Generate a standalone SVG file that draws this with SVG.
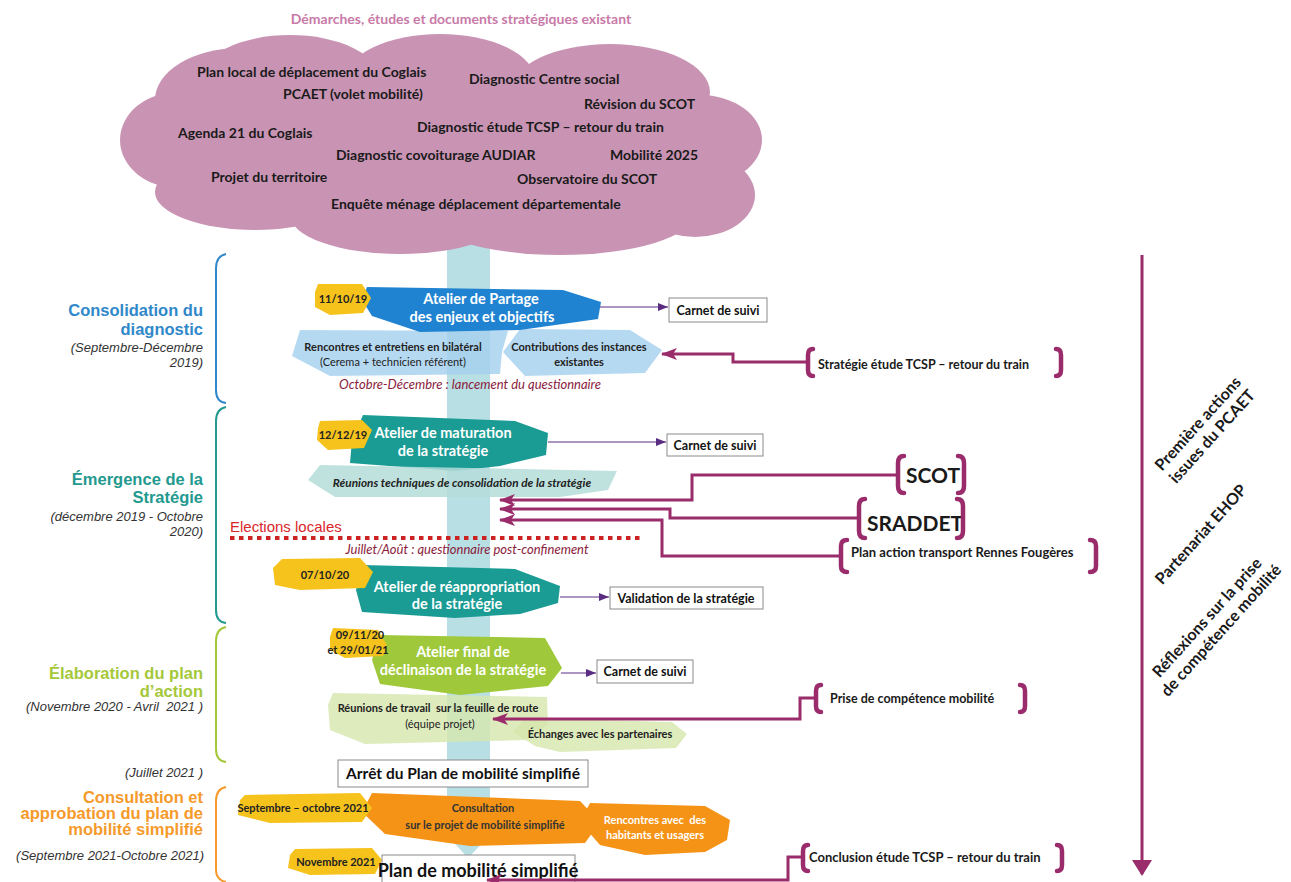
<svg xmlns="http://www.w3.org/2000/svg" width="1291" height="882" viewBox="0 0 1291 882">
<defs>
<marker id="thin" viewBox="0 0 10 8" refX="10" refY="4" markerWidth="10" markerHeight="8" markerUnits="userSpaceOnUse" orient="auto"><path d="M0,0 L10,4 L0,8 z" fill="#5a2d82"/></marker>
<marker id="plum" viewBox="0 0 16 12" refX="15" refY="6" markerWidth="16" markerHeight="12" markerUnits="userSpaceOnUse" orient="auto"><path d="M0,0 L16,6 L0,12 L4,6 z" fill="#9b2c6b"/></marker>
<marker id="plumBig" viewBox="0 0 16 20" refX="14" refY="10" markerWidth="16" markerHeight="20" markerUnits="userSpaceOnUse" orient="auto"><path d="M0,0 L16,10 L0,20 z" fill="#9b2c6b"/></marker>
</defs>
<style>
.c{font-family:Lato,'Open Sans','Liberation Sans',sans-serif;}
.a{font-family:'Liberation Sans',Arial,sans-serif;}
.b{font-weight:bold;}
.i{font-style:italic;}
.m{text-anchor:middle;}
.tag{fill:#f6c21c;}
.tagt{font-family:Lato,'Liberation Sans',sans-serif;font-weight:bold;font-size:11px;fill:#222;text-anchor:middle;}
.box{fill:#fff;stroke:#8a8a8a;stroke-width:1;}
.boxt{font-family:Lato,'Liberation Sans',sans-serif;font-weight:bold;fill:#111;text-anchor:middle;}
.wt{font-family:Lato,'Liberation Sans',sans-serif;font-weight:bold;fill:#fff;text-anchor:middle;font-size:14.5px;}
.st{font-family:Lato,'Liberation Sans',sans-serif;text-anchor:middle;font-size:11px;}
.dk{fill:#222;}
.wh{fill:#fff;}
.brace{fill:none;stroke:#9b2c6b;stroke-width:4.5;stroke-linecap:round;stroke-linejoin:round;}
.bracket{fill:none;stroke-width:2;}
.plumline{fill:none;stroke:#9b2c6b;stroke-width:3;marker-end:url(#plum);}
.thinline{fill:none;stroke:#5a2d82;stroke-width:1.2;marker-end:url(#thin);}
.cl{font-family:Lato,'Liberation Sans',sans-serif;font-weight:bold;font-size:14px;fill:#1a1a1a;}
.lab{font-family:Lato,'Liberation Sans',sans-serif;font-weight:bold;fill:#1a1a1a;}
.rot{font-family:Lato,'Liberation Sans',sans-serif;font-weight:bold;font-size:16px;fill:#1a1a1a;text-anchor:middle;}
.ph{font-family:'Liberation Sans',Arial,sans-serif;font-weight:bold;font-size:16.5px;text-anchor:end;}
.pd{font-family:'Liberation Sans',Arial,sans-serif;font-style:italic;font-size:13px;fill:#333;text-anchor:end;}
.note{font-family:Lato,'Liberation Sans',sans-serif;font-style:italic;fill:#8a1c3c;text-anchor:middle;font-size:13px;}
</style>
<rect width="1291" height="882" fill="#fff"/>

<!-- timeline band -->
<polygon id="band" points="447,240 490,240 490,835 468,858 447,835" fill="#b8dfe4"/>

<!-- cloud -->
<g id="cloud">
<g fill="#c994b4">
<ellipse cx="440" cy="145" rx="285" ry="85"/>
<ellipse cx="178" cy="140" rx="58" ry="48"/>
<ellipse cx="240" cy="100" rx="85" ry="52"/>
<ellipse cx="290" cy="80" rx="90" ry="45"/>
<ellipse cx="440" cy="80" rx="95" ry="46"/>
<ellipse cx="610" cy="92" rx="100" ry="48"/>
<ellipse cx="700" cy="140" rx="62" ry="45"/>
<ellipse cx="695" cy="195" rx="60" ry="42"/>
<ellipse cx="560" cy="213" rx="135" ry="42"/>
<ellipse cx="400" cy="215" rx="110" ry="39"/>
<ellipse cx="255" cy="192" rx="100" ry="38"/>
</g>
<text class="c b m" x="461" y="24" font-size="14" fill="#c97aa8">Démarches, études et documents stratégiques existant</text>
<text class="cl" x="197" y="77">Plan local de déplacement du Coglais</text>
<text class="cl" x="283" y="99">PCAET (volet mobilité)</text>
<text class="cl" x="469" y="84">Diagnostic Centre social</text>
<text class="cl" x="584" y="109">Révision du SCOT</text>
<text class="cl" x="178" y="138">Agenda 21 du Coglais</text>
<text class="cl" x="417" y="132">Diagnostic étude TCSP – retour du train</text>
<text class="cl" x="336" y="160">Diagnostic covoiturage AUDIAR</text>
<text class="cl" x="610" y="160">Mobilité 2025</text>
<text class="cl" x="211" y="182">Projet du territoire</text>
<text class="cl" x="517" y="184">Observatoire du SCOT</text>
<text class="cl" x="331" y="209">Enquête ménage déplacement départementale</text>
</g>

<!-- phase brackets and labels -->
<g id="phase1">
<path class="bracket" stroke="#2f88c9" d="M226,254 Q216,256 216,268 L216,390 Q216,402 226,403"/>
<text class="ph" x="203" y="316" fill="#2f88c9">Consolidation du</text>
<text class="ph" x="203" y="335" fill="#2f88c9">diagnostic</text>
<text class="pd" x="203" y="352">(Septembre-Décembre</text>
<text class="pd" x="203" y="367">2019)</text>
</g>
<g id="phase2">
<path class="bracket" stroke="#23998f" d="M226,407 Q216,409 216,421 L216,610 Q216,622 226,623"/>
<text class="ph" x="203" y="485" fill="#23998f">Émergence de la</text>
<text class="ph" x="203" y="503" fill="#23998f">Stratégie</text>
<text class="pd" x="203" y="521">(décembre 2019 - Octobre</text>
<text class="pd" x="203" y="536">2020)</text>
</g>
<g id="phase3">
<path class="bracket" stroke="#a5c83b" d="M226,627 Q216,629 216,641 L216,749 Q216,761 226,762"/>
<text class="ph" x="203" y="679" fill="#a5c83b">Élaboration du plan</text>
<text class="ph" x="203" y="697" fill="#a5c83b">d’action</text>
<text class="pd" x="203" y="711">(Novembre 2020 - Avril&#160; 2021 )</text>
<text class="pd" x="203" y="777">(Juillet 2021 )</text>
</g>
<g id="phase4">
<path class="bracket" stroke="#f59a2b" d="M226,787 Q216,789 216,801 L216,870 Q216,880 226,882"/>
<text class="ph" x="203" y="803" fill="#f59a2b">Consultation et</text>
<text class="ph" x="203" y="819" fill="#f59a2b">approbation du plan de</text>
<text class="ph" x="203" y="835" fill="#f59a2b">mobilité simplifié</text>
<text class="pd" x="204" y="860">(Septembre 2021-Octobre 2021)</text>
</g>

<!-- elections -->
<g id="elections">
<text class="a" x="230" y="532" font-size="15" fill="#d9262b">Elections locales</text>
<line x1="230" y1="538" x2="640" y2="538" stroke="#cc2222" stroke-width="4" stroke-dasharray="4.5 4.5"/>
</g>

<!-- section 1 -->
<g id="rencontres">
<polygon points="300,330 508,331 502,352 500,374 330,376 292,356" fill="#a6d1ef" fill-opacity="0.82"/>
<text class="st b dk" x="393" y="351">Rencontres et entretiens en bilatéral</text>
<text class="st dk" x="393" y="366">(Cerema + technicien référent)</text>
</g>
<g id="contributions">
<polygon points="520,329 630,330 662,350 645,373 525,376 503,352" fill="#a6d1ef" fill-opacity="0.82"/>
<text class="st b dk" x="579" y="351">Contributions des instances</text>
<text class="st b dk" x="579" y="366">existantes</text>
</g>
<g id="atelier1">
<polygon points="367,287 563,290 601,302 598,319 520,330 420,332 372,316 362,300" fill="#1f83d1"/>
<text class="wt" x="481" y="304">Atelier de Partage</text>
<text class="wt" x="482" y="322">des enjeux et objectifs</text>
</g>
<g id="date1">
<polygon class="tag" points="318,284 362,284 371,298 363,313 330,315 315,307 315,292"/>
<text class="tagt" x="343" y="303">11/10/19</text>
</g>
<text id="note1" class="note" x="470" y="389">Octobre-Décembre : lancement du questionnaire</text>
<g id="carnet1">
<rect class="box" x="669" y="298" width="98" height="24"/>
<text class="boxt" x="718" y="314.5" font-size="12.5">Carnet de suivi</text>
</g>

<!-- section 2 -->
<g id="atelier2">
<polygon points="363,415 515,421 548,433 546,455 500,466 455,471 350,463 352,440" fill="#1a9b94"/>
<text class="wt" x="443" y="438">Atelier de maturation</text>
<text class="wt" x="443" y="456">de la stratégie</text>
</g>
<g id="date2">
<polygon class="tag" points="320,421 362,420 372,430 364,448 328,450 317,440 318,428"/>
<text class="tagt" x="343" y="439">12/12/19</text>
</g>
<g id="reunions-tech">
<polygon points="320,465 617,471 608,490 560,497 335,497 308,480" fill="#b5ddd9" fill-opacity="0.85"/>
<text class="st b i dk" x="462" y="487" style="font-size:11.8px">Réunions techniques de consolidation de la stratégie</text>
</g>
<g id="carnet2">
<rect class="box" x="667" y="434" width="96" height="22"/>
<text class="boxt" x="715" y="449.5" font-size="12.5">Carnet de suivi</text>
</g>
<text id="note2" class="note" x="467" y="554">Juillet/Août : questionnaire post-confinement</text>
<g id="atelier3">
<polygon points="362,565 515,569 560,586 558,603 520,614 455,618 362,612 356,590" fill="#1a9b94"/>
<text class="wt" x="457" y="592">Atelier de réappropriation</text>
<text class="wt" x="457" y="609">de la stratégie</text>
</g>
<g id="date3">
<polygon class="tag" points="282,559 360,558 373,572 365,588 300,590 275,585 273,568"/>
<text class="tagt" x="325" y="579">07/10/20</text>
</g>
<g id="validation">
<rect class="box" x="610" y="587" width="153" height="22"/>
<text class="boxt" x="686" y="602.5" font-size="12.5">Validation de la stratégie</text>
</g>

<!-- section 3 -->
<g id="reunions-travail">
<polygon points="333,693 547,697 548,725 525,740 365,744 330,730 328,705" fill="#d6e6ad" fill-opacity="0.8"/>
<text class="st b dk" x="438" y="712">Réunions de travail&#160; sur la feuille de route</text>
<text class="st dk" x="440" y="728">(équipe projet)</text>
</g>
<g id="echanges">
<polygon points="525,718 672,722 687,734 676,748 560,752 535,746 513,732" fill="#d6e6ad" fill-opacity="0.8"/>
<text class="st b dk" x="600" y="738">Échanges avec les partenaires</text>
</g>
<g id="atelier4">
<polygon points="378,635 545,638 562,668 548,686 460,695 380,684 372,660" fill="#9fc93a"/>
<text class="wt" x="463" y="657">Atelier final de</text>
<text class="wt" x="463" y="675">déclinaison de la stratégie</text>
</g>
<g id="date4">
<polygon class="tag" points="333,628 378,630 387,645 383,656 345,658 330,650 330,637"/>
<text class="tagt" x="360" y="639">09/11/20</text>
<text class="tagt" x="358" y="654">et 29/01/21</text>
</g>
<g id="carnet3">
<rect class="box" x="597" y="660" width="96" height="23"/>
<text class="boxt" x="645" y="676" font-size="12.5">Carnet de suivi</text>
</g>
<g id="arret">
<rect class="box" x="338" y="760" width="250" height="27"/>
<text class="boxt" x="463" y="779" font-size="15.5">Arrêt du Plan de mobilité simplifié</text>
</g>

<!-- section 4 -->
<g id="consultation">
<polygon points="372,793 580,801 600,822 585,843 470,846 385,834 362,812" fill="#f59316"/>
<text class="st b" x="483" y="812" fill="#333">Consultation</text>
<text class="st b" x="485" y="829" fill="#333">sur le projet de mobilité simplifié</text>
</g>
<g id="rencontres-hab">
<polygon points="590,803 705,806 730,820 727,840 705,852 645,855 600,845 580,822" fill="#f59316"/>
<text class="st b wh" x="655" y="824">Rencontres avec&#160; des</text>
<text class="st b wh" x="655" y="839">habitants et usagers</text>
</g>
<g id="date5">
<polygon class="tag" points="245,795 360,793 372,808 362,822 270,823 238,815 240,800"/>
<text class="tagt" x="303" y="812">Septembre – octobre 2021</text>
</g>
<g id="date6">
<polygon class="tag" points="295,849 372,848 382,860 375,874 310,875 288,868 290,855"/>
<text class="tagt" x="336" y="866">Novembre 2021</text>
</g>
<g id="plan-final">
<rect class="box" x="382" y="855" width="193" height="32"/>
<text class="boxt" x="478" y="877" font-size="18">Plan de mobilité simplifié</text>
</g>

<!-- external documents -->
<g id="ext-tcsp">
<path class="brace" d="M813,349 Q808,349 808,355 L808,370 Q808,376 813,376"/>
<text class="lab" x="818" y="369" font-size="12.5">Stratégie étude TCSP – retour du train</text>
<path class="brace" d="M1056,349 Q1061,349 1061,355 L1061,370 Q1061,376 1056,376"/>
</g>
<g id="ext-scot">
<path class="brace" d="M904,456 Q898,456 898,463 L898,486 Q898,493 904,493"/>
<text class="lab" x="906" y="483" font-size="21">SCOT</text>
<path class="brace" d="M958,456 Q964,456 964,463 L964,486 Q964,493 958,493"/>
</g>
<g id="ext-sraddet">
<path class="brace" d="M865,499 Q859,499 859,506 L859,531 Q859,538 865,538"/>
<text class="lab" x="867" y="531" font-size="21">SRADDET</text>
<path class="brace" d="M957,499 Q963,499 963,506 L963,531 Q963,538 957,538"/>
</g>
<g id="ext-plan-action">
<path class="brace" d="M847,540 Q841,540 841,546 L841,566 Q841,572 847,572"/>
<text class="lab" x="851" y="557" font-size="13">Plan action transport Rennes Fougères</text>
<path class="brace" d="M1090,540 Q1096,540 1096,546 L1096,566 Q1096,572 1090,572"/>
</g>
<g id="ext-competence">
<path class="brace" d="M821,685 Q816,685 816,691 L816,706 Q816,712 821,712"/>
<text class="lab" x="830" y="703" font-size="12.5">Prise de compétence mobilité</text>
<path class="brace" d="M1020,685 Q1025,685 1025,691 L1025,706 Q1025,712 1020,712"/>
</g>
<g id="ext-conclusion">
<path class="brace" d="M808,845 Q803,845 803,851 L803,865 Q803,871 808,871"/>
<text class="lab" x="809" y="862" font-size="13">Conclusion étude TCSP – retour du train</text>
<path class="brace" d="M1057,845 Q1062,845 1062,851 L1062,865 Q1062,871 1057,871"/>
</g>

<!-- right timeline notes -->
<g id="right-notes">
<g transform="translate(1205,430) rotate(-48)">
<text class="rot" x="0" y="-4">Première actions</text>
<text class="rot" x="0" y="15">issues du PCAET</text>
</g>
<g transform="translate(1205,538) rotate(-48)">
<text class="rot" x="0" y="0">Partenariat EHOP</text>
</g>
<g transform="translate(1214,624) rotate(-48)">
<text class="rot" x="0" y="-4">Réflexions sur la prise</text>
<text class="rot" x="0" y="15">de compétence mobilité</text>
</g>
</g>

<!-- connectors -->
<g id="connectors">
<path class="thinline" d="M600,307 H668"/>
<path class="thinline" d="M548,442 H666"/>
<path class="thinline" d="M560,597 H609"/>
<path class="thinline" d="M561,673 H596"/>
<path class="plumline" d="M808,362 H733 V354 H662"/>
<path class="plumline" d="M898,475 H692 V500 H500"/>
<path class="plumline" d="M859,518 H670 V509 H500"/>
<path class="plumline" d="M841,556 H662 V520 H500"/>
<path class="plumline" d="M816,698 H800 V719 H493"/>
<path class="plumline" d="M803,857 H788 V880 H487"/>
<path d="M1142,255 V874" fill="none" stroke="#9b2c6b" stroke-width="3" marker-end="url(#plumBig)"/>
</g>
</svg>
